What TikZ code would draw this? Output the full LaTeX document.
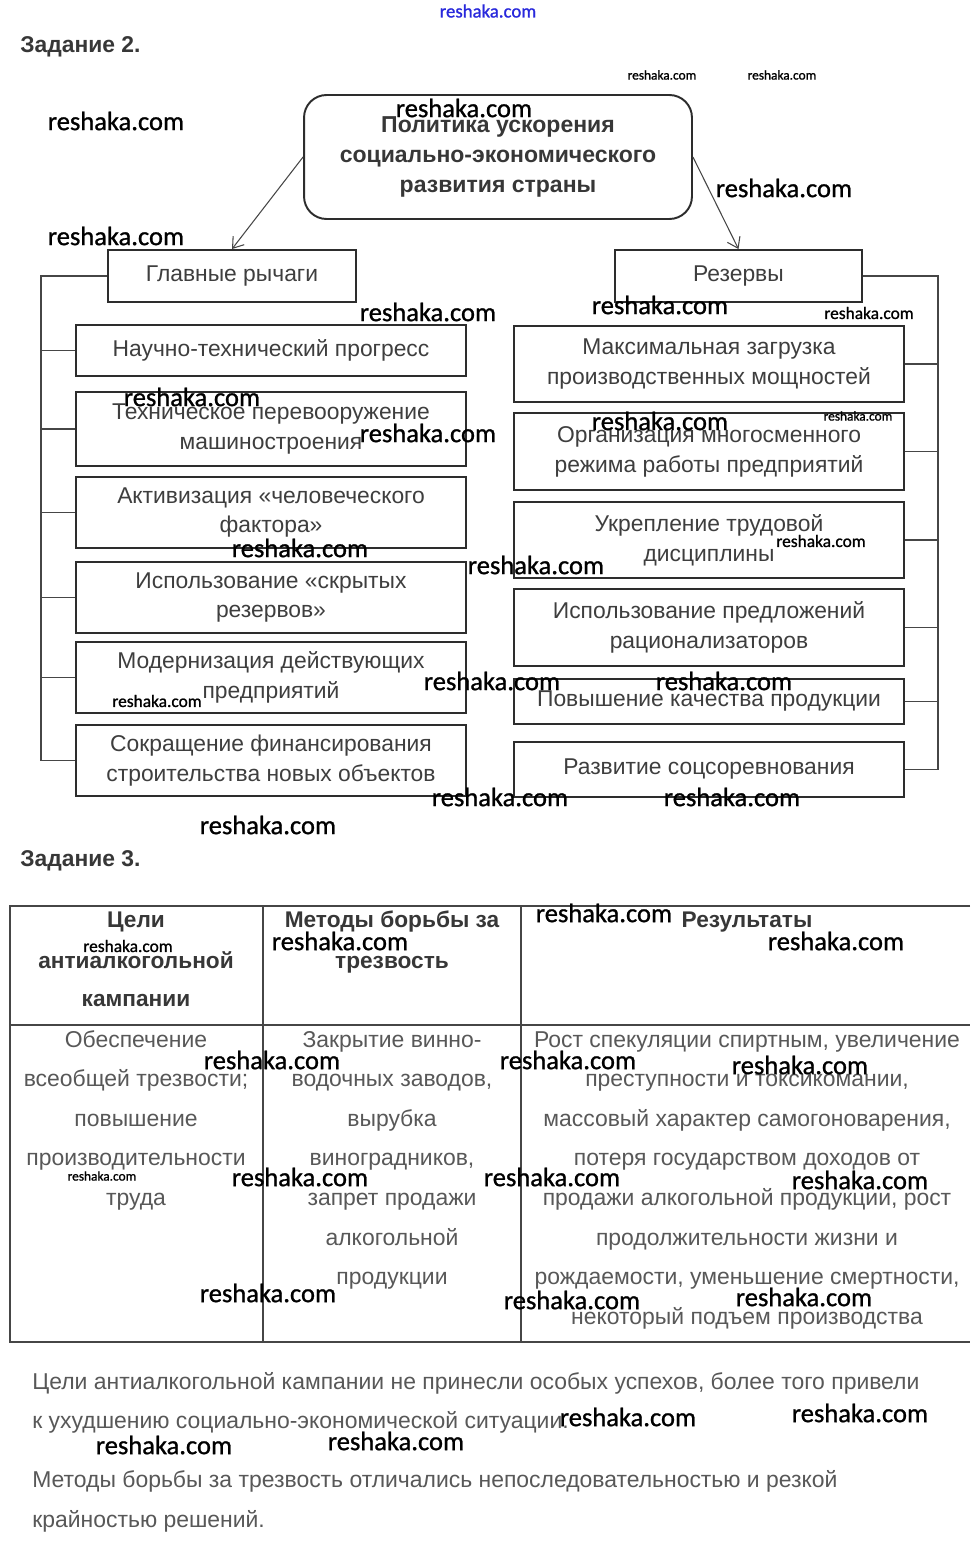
\documentclass[tikz,border=0pt]{standalone}
\usepackage{fontspec}
\setmainfont{Liberation Sans}
\newfontfamily\wmfont[FakeBold=1]{Carlito}
\usetikzlibrary{arrows.meta, positioning}

\definecolor{inkgray}{RGB}{62,62,62}
\definecolor{framegray}{RGB}{45,45,45}
\definecolor{linkgray}{RGB}{70,70,70}
\definecolor{tabgray}{RGB}{88,88,88}
\definecolor{headgray}{RGB}{55,55,55}
\definecolor{siteblue}{RGB}{40,40,220}

\begin{document}
\begin{tikzpicture}[x=0.02cm, y=-0.02cm, >={Straight Barb[length=2mm, width=2.8mm]},
    lever/.style={draw=framegray, line width=1.1pt, minimum width=7.8cm, align=center,
        text=inkgray, font=\fontsize{13}{17}\selectfont, inner sep=0pt},
    link/.style={draw=linkgray, line width=0.6pt},
    rule/.style={draw=linkgray, line width=0.7pt},
    cell/.style={anchor=base, text=tabgray, font=\fontsize{13.05}{15}\selectfont, inner sep=0pt},
    head/.style={cell, text=headgray, font=\bfseries\fontsize{12.9}{15}\selectfont},
    task/.style={anchor=base west, text=headgray, font=\bfseries\fontsize{13}{15}\selectfont, inner sep=0pt},
    wm/.style={font=\wmfont\fontsize{15.1}{15}\selectfont, inner sep=0pt},
    wmmid/.style={font=\wmfont\fontsize{9.9}{10}\selectfont, inner sep=0pt},
    wmsmall/.style={font=\wmfont\fontsize{7.6}{8}\selectfont, inner sep=0pt}]

    \useasboundingbox[fill=white] (0,0) rectangle (976,1544);

    % Task 2: the scheme
    \node[task] (task2) at (20,53) {Задание 2.};

    \node[draw=framegray, line width=1.1pt, rounded corners=0.45cm, minimum width=7.76cm,
        minimum height=2.48cm, align=center, text=headgray, inner sep=0pt,
        font=\bfseries\fontsize{13.1}{17}\selectfont] (policy) at (498,157)
        {Политика ускорения\\социально-экономического\\развития страны};

    \node[lever, minimum width=4.96cm, minimum height=1.04cm] (levers) at (232,276) {Главные рычаги};
    \node[lever, minimum width=4.94cm, minimum height=1.04cm] (reserves) at (738.5,276) {Резервы};

    \draw[->, link] (policy.west) -- (levers.north);
    \draw[->, link] (policy.east) -- (reserves.north);

    % left column
    \node[lever, minimum height=1.02cm] (l1) at (271,350.5) {Научно-технический прогресс};
    \node[lever, minimum height=1.48cm] (l2) at (271,429) {Техническое перевооружение\\машиностроения};
    \node[lever, minimum height=1.42cm] (l3) at (271,512.5) {Активизация «человеческого\\фактора»};
    \node[lever, minimum height=1.42cm] (l4) at (271,597.5) {Использование «скрытых\\резервов»};
    \node[lever, minimum height=1.42cm] (l5) at (271,677.5) {Модернизация действующих\\предприятий};
    \node[lever, minimum height=1.42cm] (l6) at (271,760.5) {Сокращение финансирования\\строительства новых объектов};

    % right column
    \node[lever, minimum height=1.52cm] (r1) at (709,364) {Максимальная загрузка\\производственных мощностей};
    \node[lever, minimum height=1.54cm] (r2) at (709,451.5) {Организация многосменного\\режима работы предприятий};
    \node[lever, minimum height=1.52cm] (r3) at (709,540) {Укрепление трудовой\\дисциплины};
    \node[lever, minimum height=1.54cm] (r4) at (709,627.5) {Использование предложений\\рационализаторов};
    \node[lever, minimum height=0.9cm] (r5) at (709,701.5) {Повышение качества продукции};
    \node[lever, minimum height=1.1cm] (r6) at (709,769.5) {Развитие соцсоревнования};

    \coordinate (lbus) at (41,0);
    \coordinate (rbus) at (938,0);
    \draw[link] (levers.west) -- (levers.west -| lbus) |- (l6.west);
    \draw[link] (reserves.east) -- (reserves.east -| rbus) |- (r6.east);
    \foreach \i in {1,...,5} {
        \draw[link] (l\i.west) -- (l\i.west -| lbus);
        \draw[link] (r\i.east) -- (r\i.east -| rbus);
    }

    % Task 3: the table
    \node[task] (task3) at (20,866) {Задание 3.};

    \draw[rule] (970,906) -- (10,906) -- (10,1342) -- (970,1342);
    \draw[rule] (10,1025) -- (970,1025);
    \draw[rule] (263,906) -- (263,1342);
    \draw[rule] (521,906) -- (521,1342);

    \node[head] (h1a) at (136,927) {Цели};
    \node[head] (h1b) at (136,968) {антиалкогольной};
    \node[head] (h1c) at (136,1006) {кампании};
    \node[head] (h2a) at (392,927) {Методы борьбы за};
    \node[head] (h2b) at (392,968) {трезвость};
    \node[head] (h3a) at (747,927) {Результаты};

    \foreach \t [count=\i] in {Обеспечение, {всеобщей трезвости;}, повышение,
        производительности, труда}
        \node[cell] (goal\i) at (136,1047+39.6*\i-39.6) {\t};
    \foreach \t [count=\i] in {Закрытие винно-, {водочных заводов,}, вырубка,
        {виноградников,}, запрет продажи, алкогольной, продукции}
        \node[cell] (method\i) at (392,1047+39.6*\i-39.6) {\t};
    \foreach \t [count=\i] in {{Рост спекуляции спиртным, увеличение},
        {преступности и токсикомании,}, {массовый характер самогоноварения,},
        потеря государством доходов от, {продажи алкогольной продукции, рост},
        продолжительности жизни и, {рождаемости, уменьшение смертности,},
        некоторый подъем производства}
        \node[cell] (result\i) at (747,1047+39.6*\i-39.6) {\t};

    % conclusion
    \node[cell, anchor=base west] (sum1) at (32,1389) {Цели антиалкогольной кампании не принесли особых успехов, более того привели};
    \node[cell, anchor=base west] (sum2) at (32,1428) {к ухудшению социально-экономической ситуации.};
    \node[cell, anchor=base west] (sum3) at (32,1487) {Методы борьбы за трезвость отличались непоследовательностью и резкой};
    \node[cell, anchor=base west] (sum4) at (32,1527) {крайностью решений.};

    % watermarks
    \node[font=\wmfont\fontsize{10.7}{11}\selectfont, text=siteblue, inner sep=0pt] (site) at (488,11) {reshaka.com};
    \foreach \x/\y [count=\i] in {116/121, 464/108, 784/188, 116/236, 428/312, 660/305,
        192/397, 428/433, 660/421, 300/548, 536/565, 492/681, 724/681, 500/797,
        732/797, 268/825, 604/913, 340/941, 836/941, 272/1060, 568/1060, 800/1065,
        300/1177, 552/1177, 860/1180, 268/1293, 572/1300, 804/1297, 628/1417,
        860/1413, 164/1445, 396/1441}
        \node[wm] (wm\i) at (\x,\y) {reshaka.com};
    \foreach \x/\y [count=\i] in {869/313, 821/541, 157/701, 128/946}
        \node[wmmid] (wmm\i) at (\x,\y) {reshaka.com};
    \foreach \x/\y [count=\i] in {662/75, 782/75, 858/416, 102/1176}
        \node[wmsmall] (wms\i) at (\x,\y) {reshaka.com};
\end{tikzpicture}
\end{document}
